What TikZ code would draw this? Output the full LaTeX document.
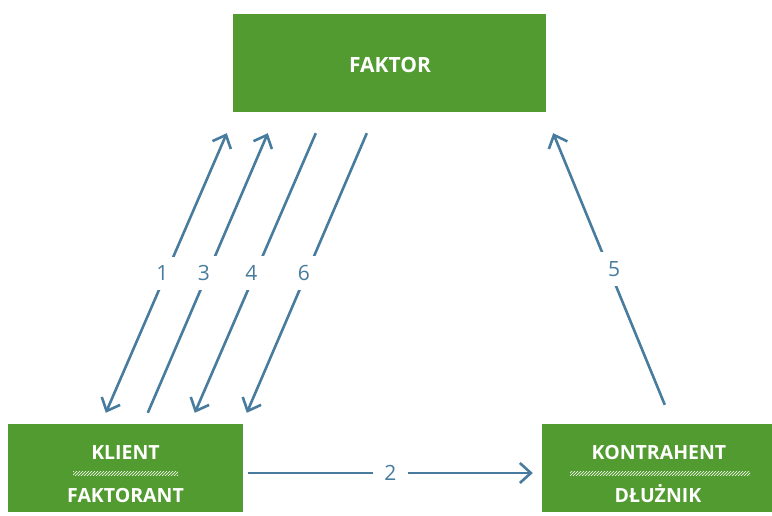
\documentclass[tikz,border=0pt]{standalone}
\usepackage{fontspec}
\setmainfont{Open Sans}
\usetikzlibrary{calc,arrows.meta,patterns}
\definecolor{faktorgreen}{RGB}{82,155,48}
\definecolor{flowblue}{RGB}{72,124,158}

\begin{document}
\begin{tikzpicture}[x=1pt,y=-1pt,
  >={Straight Barb[length=11pt,width=20pt]},
  party/.style={fill=faktorgreen, inner sep=0pt},
  partytext/.style={text=white, anchor=base, inner sep=0pt, font=\bfseries\fontsize{19.5}{20}\selectfont},
  hatch/.style={pattern=north east lines, pattern color=white},
  flow/.style={draw=flowblue, line width=2.6pt},
  flownum/.style={fill=white, text=flowblue, inner sep=9pt, font=\fontsize{21}{21}\selectfont}]
\useasboundingbox (0,0) rectangle (772,515);

%Draw Boxes
\node[party, minimum width=313pt, minimum height=98pt] (faktor) at (389.5,63) {};
\node[party, minimum width=235pt, minimum height=88pt] (klient) at (125.5,468) {};
\node[party, minimum width=230pt, minimum height=88pt] (kontrahent) at (657,468) {};

%Draw Box Texts
\node[partytext, font=\bfseries\fontsize{21}{21}\selectfont] (faktor-name) at ($(faktor.center)+(0.5,9)$) {FAKTOR};
\node[partytext] (klient-name) at ($(klient.center)+(0,-9)$) {KLIENT};
\fill[hatch] ($(klient.center)+(-52.5,3)$) rectangle ($(klient.center)+(52.5,7)$);
\node[partytext] (klient-role) at ($(klient.center)+(0,34)$) {FAKTORANT};
\node[partytext] (kontrahent-name) at ($(kontrahent.center)+(2,-9)$) {KONTRAHENT};
\fill[hatch] ($(kontrahent.center)+(-87,3)$) rectangle ($(kontrahent.center)+(93,7)$);
\node[partytext] (kontrahent-role) at ($(kontrahent.center)+(1,34)$) {DŁUŻNIK};

%Draw Flows Klient - Faktor
\draw[flow, <->] ($(klient.north west)+(98,-11)$) -- node[flownum, xshift=-4pt] (n1) {1} ($(faktor.south west)+(-6,21)$);
\draw[flow, ->] ($(klient.north west)+(140,-11)$) -- node[flownum, xshift=-4pt] (n3) {3} ($(faktor.south west)+(35,21)$);
\draw[flow, ->] ($(faktor.south west)+(83,21)$) -- node[flownum, xshift=-4pt] (n4) {4} ($(klient.north west)+(187,-11)$);
\draw[flow, ->] ($(faktor.south west)+(134,21)$) -- node[flownum, xshift=-3pt] (n6) {6} ($(klient.north west)+(239,-11)$);

%Draw Flow Klient - Kontrahent
\draw[flow, ->] ($(klient.east)+(5,5)$) -- node[flownum, inner xsep=11pt] (n2) {2} ($(kontrahent.west)+(-9,5)$);

%Draw Flow Kontrahent - Faktor
\draw[flow, ->] ($(kontrahent.north west)+(123,-19)$) -- node[flownum, xshift=5pt] (n5) {5} ($(faktor.south east)+(7,21)$);

\end{tikzpicture}
\end{document}
